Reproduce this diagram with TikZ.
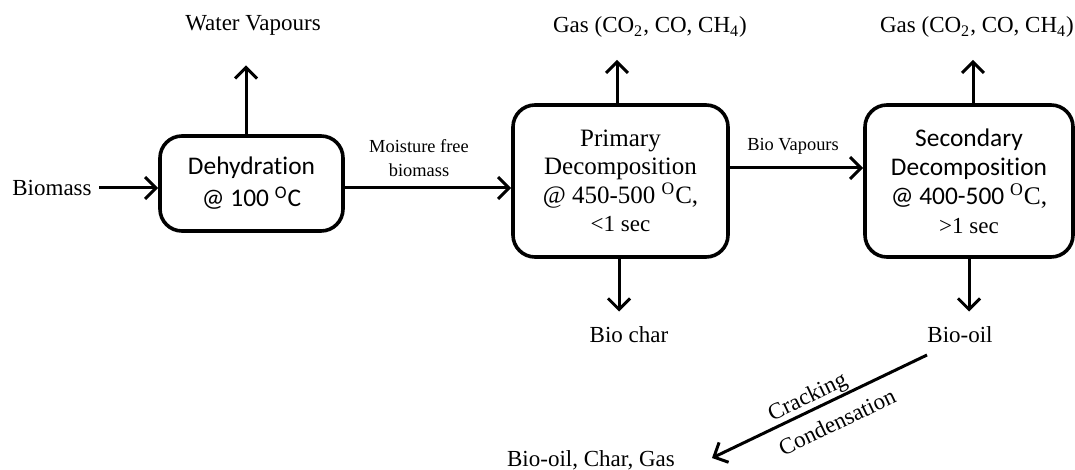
\documentclass[tikz,border=0pt]{standalone}
\usepackage{fontspec}
\setmainfont{Liberation Serif}
\newfontfamily\calibrifont[Ligatures=CommonOff]{Carlito}
\usetikzlibrary{arrows.meta}
\newlength{\du}
\setlength{\du}{0.5pt}
\tikzset{
  procbox/.style={draw, line width=3.6\du, rounded corners=22\du, align=center, inner sep=0pt, fill=white},
  flow/.style={line width=3\du, -{Straight Barb[length=5.5pt, width=11pt]}},
  outlbl/.style={inner sep=0pt, font=\fontsize{11.5}{14}\selectfont},
  smalllbl/.style={inner sep=0pt, align=center, font=\fontsize{9.2}{12}\selectfont},
}

\begin{document}
\begin{tikzpicture}
\pgftransformxscale{1.000000}
\pgftransformyscale{-1.000000}
\useasboundingbox (0\du,0\du) rectangle (1075\du,470\du);
% process boxes
\node[procbox, minimum width=183\du, minimum height=95\du, font=\calibrifont\fontsize{12.7}{16}\selectfont] (dehyd) at (251.5\du,183.5\du){Dehydration\\@ 100 \textsuperscript{O}C};
\node[procbox, minimum width=215\du, minimum height=152\du, font=\fontsize{12.5}{14.2}\selectfont] (primary) at (620.5\du,181\du){Primary\\Decomposition\\@ 450-500 \textsuperscript{O}C,\\{\fontsize{11.5}{14.2}\selectfont <1 sec}};
\node[procbox, minimum width=208\du, minimum height=152\du, font=\calibrifont\fontsize{12.7}{14.5}\selectfont] (secondary) at (969\du,181\du){Secondary\\Decomposition\\@ 400-500 {\rmfamily\textsuperscript{O}C,}\\{\rmfamily\fontsize{11.5}{14.5}\selectfont >1 sec}};
% labels
\node[outlbl] (biomass) at (52\du,188\du){Biomass};
\node[outlbl] (water) at (253\du,25\du){Water Vapours};
\node[smalllbl] (moist) at (419\du,158\du){Moisture free\\biomass};
\node[smalllbl] (biovap) at (793\du,146\du){Bio Vapours};
\node[outlbl] (gasone) at (650\du,27\du){Gas (CO\textsubscript{2}, CO, CH\textsubscript{4})};
\node[outlbl] (gastwo) at (977\du,27\du){Gas (CO\textsubscript{2}, CO, CH\textsubscript{4})};
\node[outlbl] (biochar) at (629\du,335\du){Bio char};
\node[outlbl] (biooil) at (960\du,335\du){Bio-oil};
\node[outlbl] (products) at (591\du,460\du){Bio-oil, Char, Gas};
\node[outlbl, rotate=25.6] (cracking) at (808\du,398\du){Cracking};
\node[outlbl, rotate=25.6] (condens) at (837\du,422\du){Condensation};
% connectors
\coordinate (vapout) at (728\du,168\du);
\coordinate (oilfrom) at (927\du,355\du);
\coordinate (mixto) at (712\du,458\du);
\draw[flow, shorten <=7\du] (biomass) -- (biomass -| dehyd.west);
\draw[flow] (dehyd.east |- biomass) -- (biomass -| primary.west);
\draw[flow, shorten >=30\du] ([xshift=-5.5\du]dehyd.north) -- ([xshift=-5.5\du]dehyd.north |- water.south);
\draw[flow] (vapout) -- (vapout -| secondary.west);
\draw[flow, shorten >=22\du] ([xshift=-3.5\du]primary.north) -- ([xshift=-3.5\du]primary.north |- gasone.south);
\draw[flow, shorten >=22\du] ([xshift=4\du]secondary.north) -- ([xshift=4\du]secondary.north |- gastwo.south);
\draw[flow, shorten >=15\du] ([xshift=-1.5\du]primary.south) -- ([xshift=-1.5\du]primary.south |- biochar.north);
\draw[flow, shorten >=15\du] (secondary.south) -- (secondary.south |- biooil.north);
\draw[flow] (oilfrom) -- (mixto);
\end{tikzpicture}
\end{document}
